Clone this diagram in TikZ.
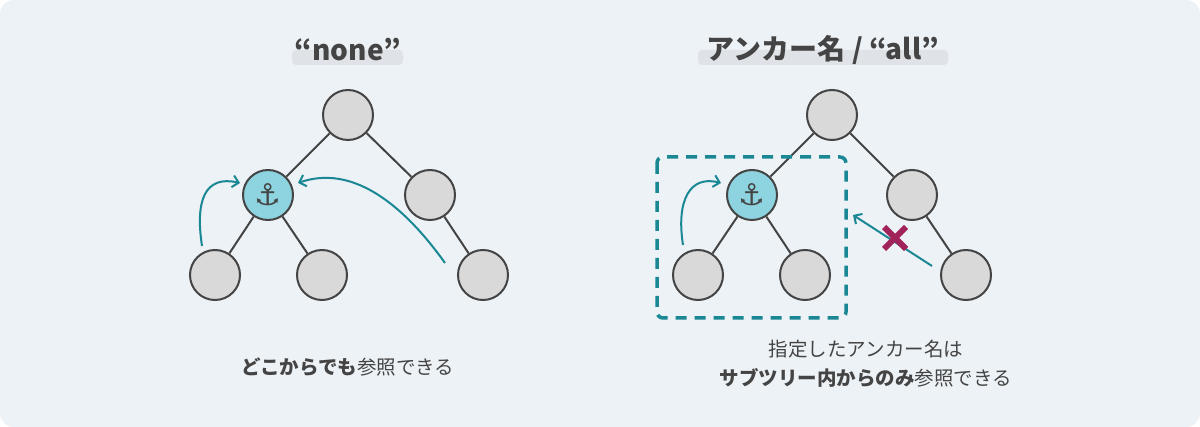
\documentclass[tikz,border=0pt]{standalone}
\usepackage{fontspec}
\setmainfont{Noto Sans CJK JP}
\usetikzlibrary{arrows.meta}
\definecolor{bg}{HTML}{EDF2F6}
\definecolor{nodefill}{HTML}{D9D9D9}
\definecolor{edge}{HTML}{444444}
\definecolor{teal}{HTML}{1A8795}
\definecolor{anch}{HTML}{8DD4E0}
\definecolor{hl}{HTML}{DFE2E6}
\definecolor{txt}{HTML}{444444}
\definecolor{cross}{HTML}{A0245A}
\tikzset{
 tn/.style={circle,draw=edge,line width=2pt,fill=nodefill,minimum size=50pt,inner sep=0},
 an/.style={tn,fill=anch},
 ed/.style={draw=edge,line width=2pt},
 ref/.style={draw=teal,line width=2pt,-{Straight Barb[length=6pt,width=12pt]}},
 ttl/.style={inner sep=1pt,text=txt,font=\fontsize{28}{30}\selectfont\bfseries},
 hlbar/.style={fill=hl,rounded corners=4pt},
 captxt/.style={text=txt,font=\fontsize{19.5}{29}\selectfont,align=center}
}
\newcommand{\anchoricon}{{\color{txt}\fontsize{30}{30}\selectfont\fontspec{DejaVu Sans}⚓}}
\begin{document}
\begin{tikzpicture}[x=1pt,y=-1pt]
\useasboundingbox (0,0) rectangle (1200,427);
\fill[white] (0,0) rectangle (1200,427);
\fill[bg,rounded corners=14pt] (0,0) rectangle (1200,427);
% left
\fill[hlbar] (292,50) rectangle (403,65);
\node[ttl] (t1) at (348,50) {“none”};
\node[tn] (r1) at (348,115) {};
\node[an] (a1) at (268,195) {\anchoricon};
\node[tn] (m1) at (430,195) {};
\node[tn] (l1) at (215,275) {};
\node[tn] (l2) at (322,275) {};
\node[tn] (l3) at (483,275) {};
\path[ed] (r1)--(a1) (r1)--(m1) (a1)--(l1) (a1)--(l2) (m1)--(l3);
\coordinate (s1) at (202,246);
\coordinate (s2) at (445,263);
\draw[ref] (s1) .. controls (195,200) and (205,175) .. (240,183);
\draw[ref] (s2) .. controls (400,200) and (350,165) .. (298,183);
\node[captxt] (c1) at (348,367) {\textbf{どこからでも}参照できる};
% right
\fill[hlbar] (698,50) rectangle (948,65);
\node[ttl] (t2) at (823,50) {アンカー名 / “all”};
\node[tn] (r2) at (832,115) {};
\node[an] (a2) at (752,195) {\anchoricon};
\node[tn] (m2) at (912,195) {};
\node[tn] (k1) at (698,275) {};
\node[tn] (k2) at (805,275) {};
\node[tn] (k3) at (966,275) {};
\path[ed] (r2)--(a2) (r2)--(m2) (a2)--(k1) (a2)--(k2) (m2)--(k3);
\draw[teal,line width=3.5pt,dash pattern=on 11pt off 8pt,rounded corners=6pt] (657,157) rectangle (846,318);
\coordinate (s3) at (683,245);
\coordinate (s4) at (932,266);
\draw[ref] (s3) .. controls (676,200) and (690,175) .. (721,183);
\draw[ref] (s4) -- (853,215);
\draw[cross,line width=6pt] (884,227)--(906,249) (906,227)--(884,249);
\node[captxt] (c2) at (866,364) {指定したアンカー名は\\\textbf{サブツリー内からのみ}参照できる};
\end{tikzpicture}
\end{document}
